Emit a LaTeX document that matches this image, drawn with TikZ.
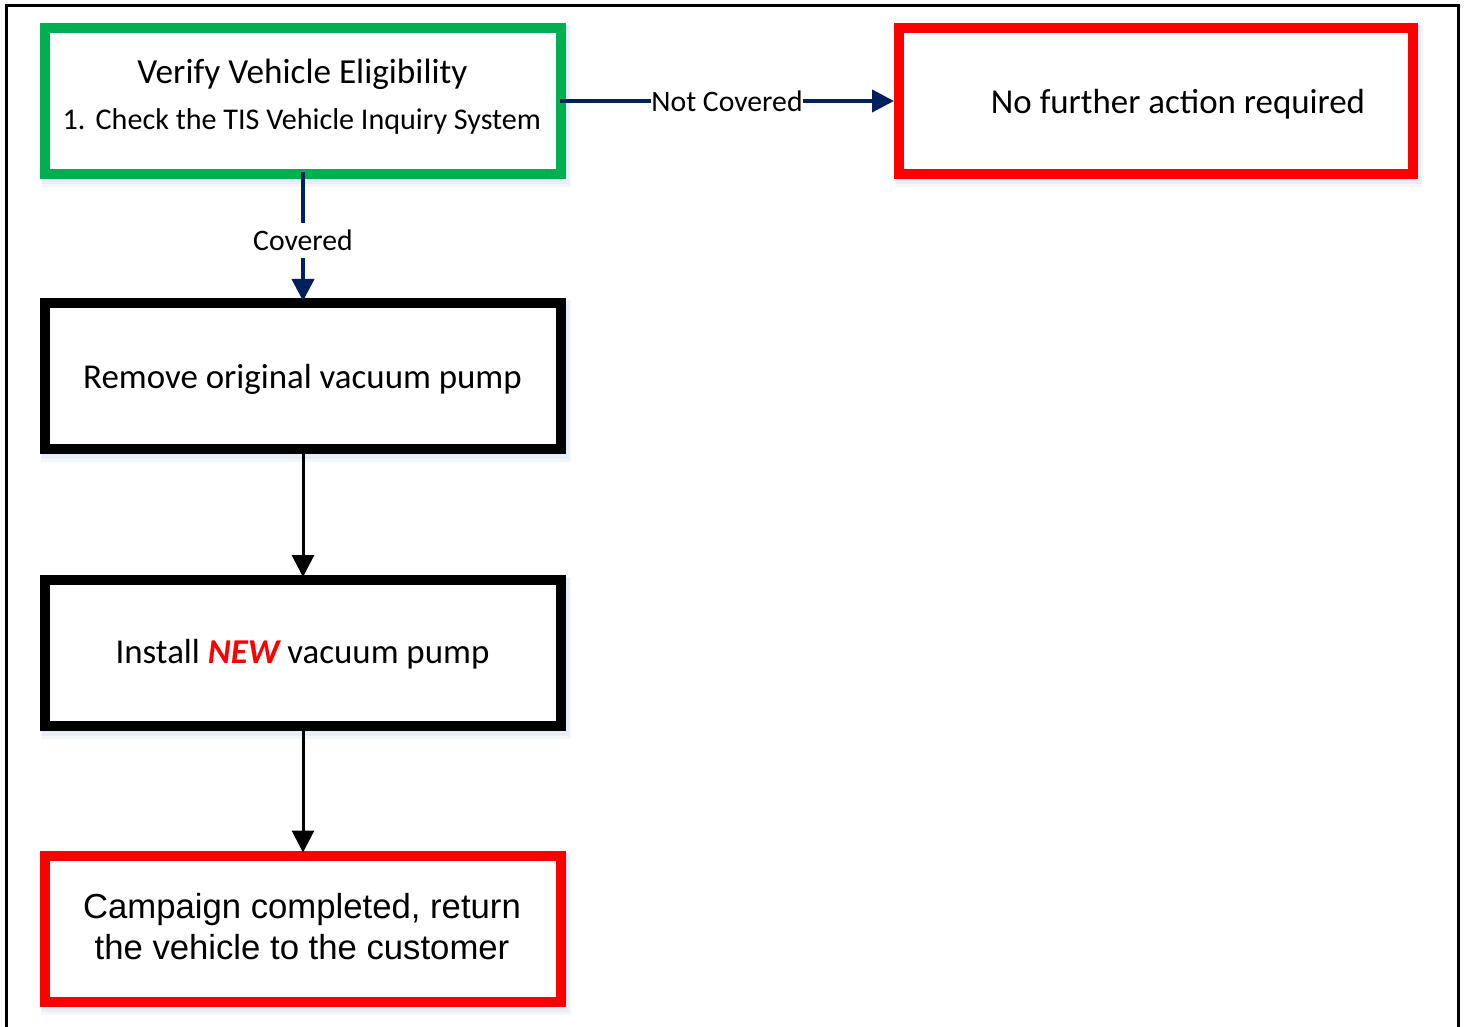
\documentclass[tikz,border=0pt]{standalone}
\usepackage{fontspec}
\setmainfont{Carlito}
\newfontfamily\arialf{Liberation Sans}
\usetikzlibrary{arrows.meta,backgrounds}
\definecolor{boxgreen}{HTML}{00B050}
\definecolor{boxred}{HTML}{FF0000}
\definecolor{navyc}{HTML}{002060}
\definecolor{shadowc}{HTML}{E8EEF7}
\definecolor{shadowlight}{HTML}{F3F6FB}
\begin{document}
\begin{tikzpicture}[x=1pt,y=-1pt,
  box/.style={draw, line width=10pt, fill=white, minimum width=516pt, minimum height=146pt, inner sep=0pt},
  bigtxt/.style={inner sep=0pt, anchor=base, font=\fontsize{34.9}{41}\selectfont},
  midtxt/.style={inner sep=0pt, font=\fontsize{30.1}{36}\selectfont},
  lab/.style={fill=white, inner xsep=0.5pt, inner ysep=7pt, font=\fontsize{29.7}{35}\selectfont},
  navyarrow/.style={draw=navyc, line width=4pt, -{Triangle[length=22pt,width=22pt]}},
  blackarrow/.style={draw=black, line width=3pt, -{Triangle[length=22pt,width=22pt]}}]
\useasboundingbox (0,0) rectangle (1465,1027);
% outer frame
\draw[line width=2.2pt] (6.5,1040) -- (6.5,5.5) -- (1458.5,5.5) -- (1458.5,1040);

% boxes
\node[box, draw=boxgreen] (verify) at (303,101) {};
\node[box, draw=boxred, minimum width=514pt] (nofurther) at (1156,101) {};
\node[box, draw=black] (remove) at (303,376) {};
\node[box, draw=black] (install) at (303,653) {};
\node[box, draw=boxred] (campaign) at (303,928.5) {};

% soft shadows
\begin{pgfonlayer}{background}
  \foreach \n in {verify,nofurther,remove,install,campaign}{
    \fill[shadowlight] ([shift={(1,2)}]\n.north west) rectangle ([shift={(5,8)}]\n.south east);
    \fill[shadowc] ([shift={(2,3)}]\n.north west) rectangle ([shift={(3,5)}]\n.south east);
  }
\end{pgfonlayer}

% texts
\node[bigtxt, font=\fontsize{35.2}{41}\selectfont] (vtitle) at (302.5,84) {Verify Vehicle Eligibility};
\node[midtxt, anchor=base west] (vnum) at (62.5,130) {1.};
\node[midtxt, anchor=base west] (vline) at (95.5,130) {Check the TIS Vehicle Inquiry System};
\node[bigtxt] (nftxt) at (1178,113.5) {No further action required};
\node[bigtxt] (rmtxt) at (302.5,388) {Remove original vacuum pump};
\node[bigtxt] (intxt) at (302.5,663) {Install {\bfseries\itshape\color{boxred}NEW} vacuum pump};
\node[bigtxt, font=\arialf\fontsize{34.7}{41}\selectfont] (camp1) at (302,918) {Campaign completed, return};
\node[bigtxt, font=\arialf\fontsize{34.7}{41}\selectfont] (camp2) at (302,959) {the vehicle to the customer};

% connectors
\draw[navyarrow] ([xshift=-6pt]verify.east) -- node[lab, pos=0.5] (ncl) {Not Covered} (nofurther.west);
\draw[navyarrow] ([yshift=7pt]verify.south) -- node[lab, pos=0.53] (cl) {Covered} ([yshift=-3pt]remove.north);
\draw[blackarrow] (remove.south) -- ([yshift=-2pt]install.north);
\draw[blackarrow] (install.south) -- ([yshift=-2pt]campaign.north);
\end{tikzpicture}
\end{document}
